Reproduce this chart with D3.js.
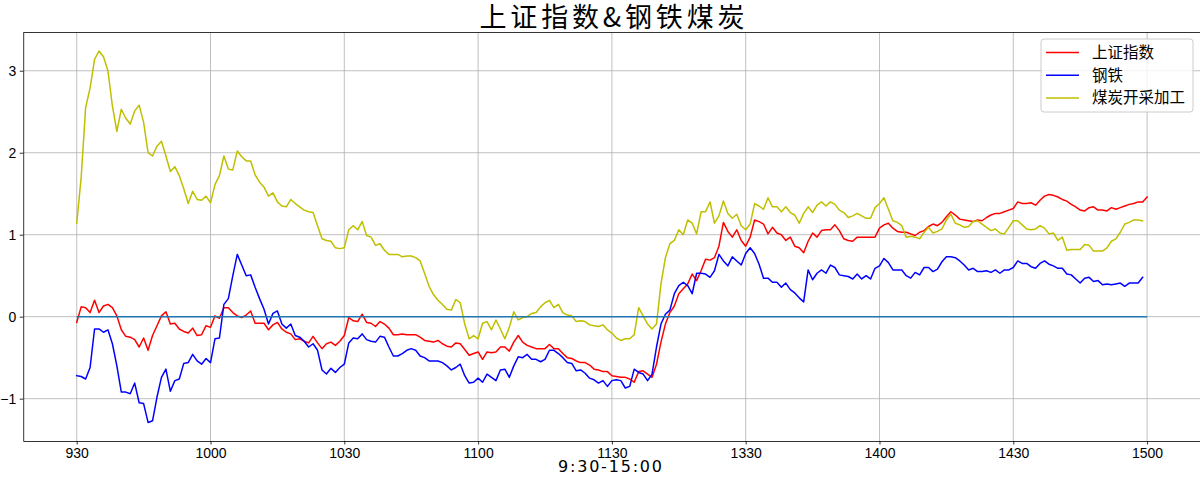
<!DOCTYPE html>
<html><head><meta charset="utf-8">
<script src="https://cdn.jsdelivr.net/npm/d3@7"></script>
<style>body{margin:0;background:#fff;}svg{display:block;}</style>
</head><body>
<svg id="chart" width="1200" height="483"></svg>
<script>
const chartTitle = "上证指数&钢铁煤炭";
const xLabel = "9:30-15:00";
const seriesNames = ["上证指数", "钢铁", "煤炭开采加工"];
const tickLabels = ["930","1000","1030","1100","1130","1330","1400","1430","1500"];
const tickIndex = [0,30,60,90,120,150,180,210,240];
const yTicks = [-1,0,1,2,3];

const shIndex = [-0.07,0.12,0.11,0.05,0.20,0.05,0.13,0.15,0.11,0.01,
-0.16,-0.24,-0.25,-0.28,-0.37,-0.26,-0.41,-0.23,-0.11,0.01,
0.06,-0.09,-0.08,-0.15,-0.18,-0.20,-0.14,-0.23,-0.22,-0.11,
-0.13,0.01,-0.02,0.11,0.11,0.05,0.01,-0.01,0.02,0.07,
-0.08,-0.08,-0.08,-0.16,-0.10,-0.07,-0.15,-0.19,-0.21,-0.28,
-0.27,-0.30,-0.32,-0.24,-0.32,-0.39,-0.33,-0.31,-0.35,-0.30,
-0.23,-0.01,-0.05,-0.06,0.03,-0.07,-0.08,-0.12,-0.06,-0.09,
-0.14,-0.22,-0.22,-0.21,-0.22,-0.22,-0.22,-0.25,-0.29,-0.30,
-0.31,-0.29,-0.33,-0.36,-0.37,-0.32,-0.33,-0.40,-0.47,-0.45,
-0.43,-0.52,-0.43,-0.44,-0.43,-0.37,-0.37,-0.42,-0.31,-0.23,
-0.31,-0.35,-0.37,-0.39,-0.39,-0.39,-0.34,-0.39,-0.39,-0.45,
-0.50,-0.51,-0.54,-0.56,-0.56,-0.59,-0.64,-0.65,-0.67,-0.67,
-0.72,-0.73,-0.74,-0.74,-0.76,-0.80,-0.67,-0.66,-0.70,-0.74,
-0.58,-0.31,-0.09,0.05,0.13,0.28,0.34,0.40,0.52,0.44,
0.56,0.70,0.69,0.72,0.86,1.15,1.04,0.97,1.06,0.93,
0.86,0.97,1.18,1.16,1.13,1.01,1.09,1.02,1.00,0.93,
0.97,0.86,0.84,0.78,0.92,1.02,0.97,1.05,1.06,1.06,
1.12,1.05,0.95,0.93,0.92,0.97,0.97,0.97,0.97,0.97,
1.08,1.12,1.14,1.08,1.04,1.03,1.03,1.01,0.99,1.03,
1.05,1.10,1.13,1.11,1.15,1.22,1.28,1.24,1.19,1.18,
1.17,1.16,1.18,1.17,1.21,1.24,1.26,1.26,1.28,1.30,
1.32,1.40,1.38,1.38,1.39,1.36,1.42,1.47,1.49,1.48,
1.46,1.43,1.41,1.37,1.34,1.30,1.29,1.33,1.34,1.30,
1.30,1.29,1.33,1.31,1.33,1.35,1.37,1.38,1.40,1.40,
1.46];

const steel = [-0.72,-0.73,-0.76,-0.62,-0.15,-0.15,-0.19,-0.16,-0.33,-0.60,
-0.92,-0.92,-0.94,-0.81,-1.05,-1.06,-1.29,-1.27,-0.98,-0.74,
-0.64,-0.91,-0.78,-0.76,-0.57,-0.56,-0.46,-0.54,-0.58,-0.51,
-0.56,-0.27,-0.26,0.15,0.22,0.50,0.76,0.63,0.50,0.51,
0.36,0.22,0.09,-0.09,0.04,0.07,-0.09,-0.14,-0.09,-0.23,
-0.25,-0.30,-0.37,-0.33,-0.41,-0.65,-0.70,-0.63,-0.68,-0.62,
-0.58,-0.32,-0.26,-0.27,-0.21,-0.28,-0.30,-0.31,-0.24,-0.25,
-0.37,-0.48,-0.48,-0.45,-0.41,-0.39,-0.41,-0.48,-0.50,-0.54,
-0.54,-0.54,-0.56,-0.60,-0.65,-0.62,-0.58,-0.72,-0.81,-0.80,
-0.75,-0.80,-0.70,-0.74,-0.78,-0.65,-0.64,-0.74,-0.60,-0.49,
-0.50,-0.46,-0.52,-0.52,-0.55,-0.52,-0.41,-0.41,-0.45,-0.50,
-0.56,-0.57,-0.66,-0.65,-0.69,-0.75,-0.77,-0.81,-0.78,-0.85,
-0.78,-0.77,-0.78,-0.87,-0.85,-0.64,-0.68,-0.70,-0.78,-0.70,
-0.37,-0.09,0.03,0.08,0.28,0.38,0.42,0.38,0.28,0.53,
0.53,0.52,0.48,0.56,0.76,0.68,0.62,0.73,0.68,0.63,
0.77,0.84,0.77,0.64,0.47,0.47,0.42,0.42,0.36,0.41,
0.33,0.29,0.23,0.18,0.57,0.45,0.53,0.57,0.53,0.63,
0.60,0.51,0.50,0.49,0.46,0.52,0.46,0.50,0.46,0.59,
0.62,0.71,0.66,0.57,0.57,0.57,0.50,0.47,0.54,0.51,
0.60,0.60,0.55,0.58,0.67,0.73,0.73,0.72,0.68,0.63,
0.57,0.59,0.55,0.55,0.56,0.54,0.57,0.53,0.57,0.57,
0.60,0.68,0.65,0.65,0.61,0.59,0.65,0.68,0.64,0.62,
0.59,0.59,0.52,0.51,0.46,0.41,0.47,0.48,0.43,0.44,
0.39,0.40,0.39,0.40,0.41,0.37,0.41,0.41,0.41,0.48];

const coal = [1.14,1.70,2.55,2.79,3.14,3.24,3.17,3.00,2.57,2.26,
2.53,2.42,2.35,2.51,2.58,2.37,2.00,1.96,2.08,2.14,
1.96,1.77,1.83,1.72,1.56,1.38,1.53,1.43,1.42,1.47,
1.39,1.61,1.72,1.96,1.80,1.79,2.02,1.95,1.90,1.90,
1.73,1.64,1.58,1.47,1.51,1.40,1.35,1.34,1.43,1.38,
1.34,1.30,1.28,1.27,1.11,0.95,0.93,0.92,0.84,0.83,
0.84,1.06,1.11,1.06,1.16,0.99,0.97,0.87,0.89,0.81,
0.76,0.76,0.76,0.73,0.74,0.74,0.72,0.68,0.53,0.37,
0.27,0.20,0.15,0.09,0.08,0.21,0.17,-0.09,-0.27,-0.23,
-0.27,-0.08,-0.06,-0.16,-0.04,-0.15,-0.27,-0.13,0.06,-0.04,
-0.01,0.00,0.04,0.05,0.12,0.17,0.20,0.11,0.15,0.05,
0.02,0.01,-0.06,-0.05,-0.06,-0.10,-0.11,-0.12,-0.10,-0.16,
-0.20,-0.26,-0.29,-0.27,-0.27,-0.22,0.11,0.01,-0.09,-0.15,
-0.09,0.40,0.72,0.89,0.93,1.06,1.00,1.18,1.14,1.01,
1.28,1.28,1.40,1.14,1.23,1.41,1.26,1.20,1.25,1.11,
1.06,1.13,1.38,1.35,1.31,1.45,1.34,1.34,1.28,1.34,
1.27,1.24,1.14,1.26,1.34,1.27,1.36,1.40,1.35,1.40,
1.37,1.30,1.27,1.21,1.23,1.26,1.23,1.20,1.20,1.33,
1.38,1.45,1.31,1.17,1.15,1.11,0.97,0.98,0.97,0.95,
1.03,1.09,1.02,1.04,1.07,1.18,1.25,1.14,1.12,1.09,
1.10,1.16,1.17,1.13,1.09,1.05,1.07,1.02,1.01,1.09,
1.17,1.17,1.12,1.07,1.06,1.07,1.11,1.08,1.01,1.02,
0.93,0.97,0.81,0.82,0.82,0.82,0.88,0.87,0.80,0.80,
0.80,0.84,0.92,0.95,1.03,1.13,1.15,1.18,1.18,1.17];

const colors = ["#ff0000", "#0000ff", "#bfbf00"];
const zeroColor = "#1f77b4";

const svg = d3.select("#chart");
const W = 1200, H = 483;
const plotL = 23.2, plotR = 1200.6, plotT = 32.5, plotB = 441;

const xMax = shIndex.length - 1;
const xPad = xMax * 0.05;
const x = d3.scaleLinear().domain([-xPad, xMax + xPad]).range([plotL, plotR]);
const all = shIndex.concat(steel, coal);
const yMin = d3.min(all), yMax = d3.max(all);
const yPad = (yMax - yMin) * 0.05;
const y = d3.scaleLinear().domain([yMin - yPad, yMax + yPad]).range([plotB, plotT]);

svg.append("rect").attr("width", W).attr("height", H).attr("fill", "#fff");

svg.append("defs").append("clipPath").attr("id", "clip")
  .append("rect").attr("x", plotL).attr("y", plotT).attr("width", plotR - plotL).attr("height", plotB - plotT);

// grid
const grid = svg.append("g");
grid.selectAll(".gx").data(tickIndex).enter().append("line")
  .attr("x1", d => x(d)).attr("x2", d => x(d)).attr("y1", plotT).attr("y2", plotB)
  .attr("stroke", "#b0b0b0").attr("stroke-width", 0.8);
grid.selectAll(".gy").data(yTicks).enter().append("line")
  .attr("x1", plotL).attr("x2", plotR).attr("y1", d => y(d)).attr("y2", d => y(d))
  .attr("stroke", "#b0b0b0").attr("stroke-width", 0.8);

// lines
const line = d3.line().x((d, i) => x(i)).y(d => y(d));
const gLines = svg.append("g").attr("clip-path", "url(#clip)");
[shIndex, steel, coal].forEach((s, k) => {
  gLines.append("path").datum(s).attr("d", line).attr("fill", "none")
    .attr("stroke", colors[k]).attr("stroke-width", 1.5).attr("stroke-linejoin", "round").attr("stroke-linecap", "square");
});
const zeroLine = shIndex.map(() => 0);
gLines.append("path").datum(zeroLine).attr("d", line).attr("fill", "none")
  .attr("stroke", zeroColor).attr("stroke-width", 1.5);

// axes
const tickFont = "'Liberation Sans', Arial, sans-serif";
const xAxis = d3.axisBottom(x).tickValues(tickIndex).tickFormat((d, i) => tickLabels[i])
  .tickSizeInner(3.5).tickSizeOuter(0).tickPadding(3.5);
const gx = svg.append("g").attr("transform", `translate(0,${plotB})`).call(xAxis);
gx.select(".domain").attr("stroke", "#000").attr("stroke-width", 0.8);
gx.selectAll(".tick line").attr("stroke", "#000").attr("stroke-width", 0.8);
gx.selectAll(".tick text").attr("font-family", tickFont).attr("font-size", 14).attr("fill", "#000");

const yAxis = d3.axisLeft(y).tickValues(yTicks).tickFormat(d => d < 0 ? "\u2212" + Math.abs(d) : String(d))
  .tickSizeInner(3.5).tickSizeOuter(0).tickPadding(3.5);
const gy = svg.append("g").attr("transform", `translate(${plotL},0)`).call(yAxis);
gy.select(".domain").attr("stroke", "#000").attr("stroke-width", 0.8);
gy.selectAll(".tick line").attr("stroke", "#000").attr("stroke-width", 0.8);
gy.selectAll(".tick text").attr("font-family", tickFont).attr("font-size", 14).attr("fill", "#000");

// top spine
svg.append("line").attr("x1", plotL).attr("x2", plotR).attr("y1", plotT).attr("y2", plotT).attr("stroke", "#000").attr("stroke-width", 0.8);

// title
svg.append("text").attr("x", 612).attr("y", 27).attr("text-anchor", "middle")
  .attr("font-family", "'Noto Sans CJK SC', sans-serif").attr("font-size", 27)
  .attr("textLength", 265).attr("lengthAdjust", "spacing")
  .attr("fill", "#000").text(chartTitle);

// x label
svg.append("text").attr("x", 610).attr("y", 472).attr("text-anchor", "middle")
  .attr("font-family", "'DejaVu Sans', sans-serif").attr("font-size", 16)
  .attr("textLength", 104).attr("lengthAdjust", "spacing")
  .attr("fill", "#000").text(xLabel);

// legend
const lg = svg.append("g");
lg.append("rect").attr("x", 1041).attr("y", 39).attr("width", 152).attr("height", 73).attr("rx", 3)
  .attr("fill", "#fff").attr("fill-opacity", 0.8).attr("stroke", "#cccccc").attr("stroke-width", 1);
seriesNames.forEach((n, k) => {
  const yy = 52.5 + k * 22.7;
  lg.append("line").attr("x1", 1046).attr("x2", 1079).attr("y1", yy).attr("y2", yy)
    .attr("stroke", colors[k]).attr("stroke-width", 1.5);
  lg.append("text").attr("x", 1092).attr("y", yy + 5.5)
    .attr("font-family", "'Noto Sans CJK SC', sans-serif").attr("font-size", 15.5).attr("fill", "#000").text(n);
});
</script>
</body></html>
